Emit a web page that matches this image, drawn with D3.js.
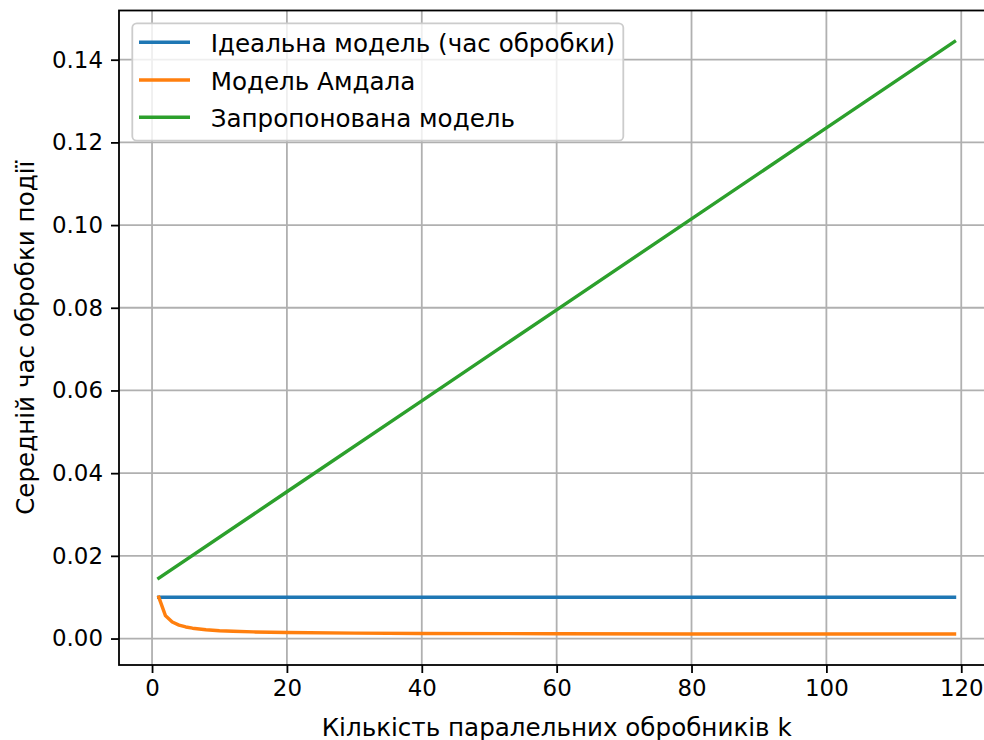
<!DOCTYPE html>
<html>
<head>
<meta charset="utf-8">
<script src="https://cdn.jsdelivr.net/npm/d3@7/dist/d3.min.js"></script>
<style>
  html, body { margin: 0; padding: 0; background: #fff; }
  svg text { font-family: "DejaVu Sans", sans-serif; fill: #000; }
</style>
</head>
<body>
<svg id="chart" width="984" height="740"></svg>
<script>
// ---- data ----
const seriesNames = ["Ідеальна модель (час обробки)", "Модель Амдала", "Запропонована модель"];
const idealK = [1, 119];
const idealT = [0.01, 0.01];
const amdahlK = [1, 2, 3, 4, 5, 6, 8, 10, 12, 15, 20, 30, 40, 60, 80, 100, 119];
const amdahlT = [0.0100, 0.0055, 0.0040, 0.00325, 0.0028, 0.0025, 0.00213, 0.0019, 0.00175, 0.0016, 0.00145, 0.0013, 0.00123, 0.00115, 0.00111, 0.00109, 0.00108];
const proposedK = [1, 20, 40, 60, 80, 100, 119];
const proposedT = [0.0146, 0.0355, 0.0575, 0.0795, 0.1015, 0.1235, 0.1444];
const xTicks = [0, 20, 40, 60, 80, 100, 120];
const yTicks = [0.00, 0.02, 0.04, 0.06, 0.08, 0.10, 0.12, 0.14];
const xLabel = "Кількість паралельних обробників k";
const yLabel = "Середній час обробки події";
const colors = ["#1f77b4", "#ff7f0e", "#2ca02c"];

// ---- layout ----
const W = 984, H = 740;
const mLeft = 119, mRight = 994.3, mTop = 10.5, mBottom = 665;
const FS = 22.9;     // tick labels
const FL = 24.6;     // labels & legend
const svg = d3.select("#chart");

const x = d3.scaleLinear().domain([-4.9, 124.9]).range([mLeft, mRight]);
const y = d3.scaleLinear().domain([-0.0064, 0.1519]).range([mBottom, mTop]);

svg.append("defs").append("clipPath").attr("id", "clip")
  .append("rect").attr("x", mLeft).attr("y", mTop).attr("width", mRight - mLeft).attr("height", mBottom - mTop);

// grid
const grid = svg.append("g");
grid.selectAll(".gx").data(xTicks).join("line").attr("class", "gx")
  .attr("x1", d => x(d)).attr("x2", d => x(d)).attr("y1", mTop).attr("y2", mBottom)
  .attr("stroke", "#b0b0b0").attr("stroke-width", 1.8);
grid.selectAll(".gy").data(yTicks).join("line").attr("class", "gy")
  .attr("y1", d => y(d)).attr("y2", d => y(d)).attr("x1", mLeft).attr("x2", mRight)
  .attr("stroke", "#b0b0b0").attr("stroke-width", 1.8);

// lines
const series = [
  { k: idealK, t: idealT },
  { k: amdahlK, t: amdahlT },
  { k: proposedK, t: proposedT }
];
const line = d3.line().x(d => x(d[0])).y(d => y(d[1]));
const lg = svg.append("g").attr("clip-path", "url(#clip)");
series.forEach((s, i) => {
  lg.append("path").datum(s.k.map((k, j) => [k, s.t[j]]))
    .attr("d", line).attr("fill", "none").attr("stroke", colors[i])
    .attr("stroke-width", 3.4).attr("stroke-linejoin", "round").attr("stroke-linecap", "square");
});

// axes
const xAxis = d3.axisBottom(x).tickValues(xTicks).tickSize(8).tickPadding(7).tickFormat(d3.format("d"));
const yAxis = d3.axisLeft(y).tickValues(yTicks).tickSize(8).tickPadding(8).tickFormat(d3.format(".2f"));
const gx = svg.append("g").attr("transform", `translate(0,${mBottom})`).call(xAxis);
const gy = svg.append("g").attr("transform", `translate(${mLeft},0)`).call(yAxis);
[gx, gy].forEach(g => {
  g.select(".domain").remove();
  g.selectAll(".tick line").attr("stroke", "#000").attr("stroke-width", 1.8);
  g.selectAll(".tick text").attr("font-size", FS).attr("font-family", "DejaVu Sans").attr("fill", "#000");
});

// spines
svg.append("rect").attr("x", mLeft).attr("y", mTop).attr("width", mRight - mLeft).attr("height", mBottom - mTop)
  .attr("fill", "none").attr("stroke", "#000").attr("stroke-width", 1.8);

// axis labels
svg.append("text").attr("x", (mLeft + mRight) / 2).attr("y", 736)
  .attr("text-anchor", "middle").attr("font-size", FL).text(xLabel);
svg.append("text").attr("transform", `translate(25,${(mTop + mBottom) / 2}) rotate(-90)`)
  .attr("text-anchor", "middle").attr("dominant-baseline", "central").attr("font-size", FL).text(yLabel);

// legend
const leg = svg.append("g");
leg.append("rect").attr("x", 132.3).attr("y", 23.3).attr("width", 491).attr("height", 117.4)
  .attr("rx", 4.5).attr("fill", "#fff").attr("fill-opacity", 0.8)
  .attr("stroke", "#cccccc").attr("stroke-width", 1.8);
const rowY = [42.3, 80, 117.3];
seriesNames.forEach((name, i) => {
  leg.append("line").attr("x1", 139).attr("x2", 190).attr("y1", rowY[i]).attr("y2", rowY[i])
    .attr("stroke", colors[i]).attr("stroke-width", 3.4);
  leg.append("text").attr("x", 210.7).attr("y", rowY[i] + 10).attr("font-size", FL).text(name);
});
</script>
</body>
</html>
